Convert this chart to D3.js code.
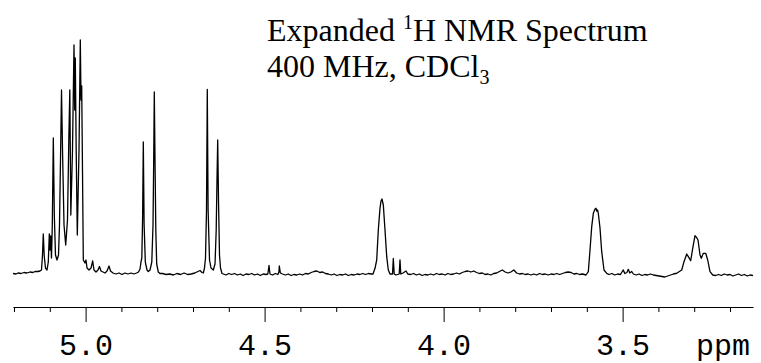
<!DOCTYPE html>
<html>
<head>
<meta charset="utf-8">
<script src="https://cdn.jsdelivr.net/npm/d3@7"></script>
<style>
  html, body { margin: 0; padding: 0; background: #fff; }
  svg { display: block; }
</style>
</head>
<body>
<script>
// ---- data (chemical shift in ppm, intensity in arbitrary units) ----
const spectrum = [
  [5.2028,0.5],[5.1944,0],[5.1888,1],[5.1804,0.5],[5.1721,1.5],[5.1637,1],[5.1553,2],[5.1469,1.5],[5.1413,2.5],[5.1330,2.5],[5.1274,3],
  [5.1232,4],[5.1204,19],[5.1182,40],[5.1156,18],[5.1120,6],[5.1078,4],[5.1042,12],[5.1014,40],[5.0994,24],[5.0975,38],[5.0953,16],
  [5.0930,49],[5.0902,136],[5.0874,59],[5.0841,19],[5.0799,14],[5.0757,19],[5.0729,49],[5.0693,134],[5.0673,184],[5.0645,124],
  [5.0603,49],[5.0556,29],[5.0506,54],[5.0469,134],[5.0441,184],[5.0413,59],[5.0366,124],[5.0324,229],[5.0304,164],[5.0288,216],
  [5.0263,124],[5.0232,39],[5.0184,124],[5.0148,234],[5.0128,174],[5.0109,188],[5.0087,104],[5.0064,14],[5.0017,11],[4.9989,14],
  [4.9961,6],[4.9905,4],[4.9849,6],[4.9802,13],[4.9765,4],[4.9709,2],[4.9654,4],[4.9612,7.5],[4.9570,3],[4.9514,2],[4.9458,1],
  [4.9402,3],[4.9346,8],[4.9304,3],[4.9235,1],[4.9151,0],[4.9067,1],[4.8983,-0.5],[4.8899,1],[4.8816,0],[4.8732,1],[4.8648,0],
  [4.8578,1],[4.8522,2],[4.8480,5],[4.8453,12],[4.8430,16],[4.8408,55],[4.8388,132],[4.8366,50],[4.8332,12],[4.8285,4],[4.8249,2.5],
  [4.8201,4],[4.8151,12],[4.8117,49],[4.8098,114],[4.8081,182],[4.8061,114],[4.8039,44],[4.8014,10],[4.7969,2],[4.7922,0.5],
  [4.785,0.5],[4.775,-0.5],[4.765,0],[4.755,-1],[4.745,0.5],[4.735,-0.5],[4.725,1],[4.715,-0.5],[4.705,0],[4.695,1],[4.6804,3.5],[4.6749,1.5],
  [4.6712,1],[4.6679,6],[4.6651,16],[4.6623,64],[4.6601,184.7],[4.6578,64],[4.6539,14],[4.6497,6],[4.6433,4],[4.6385,10],[4.6352,44],
  [4.6330,94],[4.6310,134],[4.6288,74],[4.6260,19],[4.6232,6],[4.6190,0.5],
  [4.615,0],[4.608,-1],[4.600,0.5],[4.592,-0.5],[4.584,0.5],[4.576,-1],[4.568,0],[4.560,-1.5],[4.552,0],[4.544,-0.5],[4.536,0.5],
  [4.528,-1],[4.520,0],[4.512,-1.5],[4.504,0],[4.496,-0.5],[4.491,0],[4.4877,8.5],[4.4850,0],[4.478,-1],[4.470,0.5],[4.463,-0.5],
  [4.4600,2],[4.4589,8],[4.4560,1],[4.450,0],[4.442,-1],[4.434,0],[4.426,-1.5],[4.418,-0.5],[4.410,-1],[4.402,0],[4.394,-1],
  [4.386,0.5],[4.378,0],[4.370,1.5],[4.362,2.5],[4.354,3],[4.346,1.5],[4.338,2],[4.330,0.5],[4.322,0],[4.314,-1],[4.306,0],
  [4.298,-1.5],[4.290,-0.5],[4.282,-1],[4.274,0],[4.266,-1.5],[4.258,-0.5],[4.250,-1],[4.242,0],[4.234,-0.5],[4.226,0.5],[4.218,-0.5],
  [4.210,0.5],[4.202,0],
  [4.1972,0],[4.1916,5.7],[4.1869,14],[4.1824,44],[4.1777,65.7],[4.1749,73],[4.1721,75],[4.1684,69],[4.1637,44],[4.1589,17.3],
  [4.1545,4],[4.1497,0],[4.1427,0],[4.1405,15.5],[4.1380,0],[4.1330,-1],[4.1240,0],[4.1218,14],[4.1196,0],[4.1134,1],
  [4.105,3],[4.100,0],[4.092,-0.5],[4.084,0.5],[4.076,-1],[4.068,0],[4.060,-1.5],[4.052,-0.5],[4.044,-1],[4.036,0],[4.028,-1],
  [4.020,0.5],[4.012,-0.5],[4.004,0],[3.996,-1],[3.988,0.5],[3.980,-0.5],[3.972,0],[3.964,1],[3.956,0],[3.948,1.5],[3.940,2.5],
  [3.932,3],[3.924,2],[3.916,3],[3.908,1.5],[3.900,0.5],[3.892,1],[3.884,-0.5],[3.876,0],[3.868,-1],[3.860,0.5],[3.852,1],
  [3.844,2.5],[3.836,4],[3.828,2],[3.820,1],[3.812,2],[3.804,4],[3.796,1],[3.788,0],[3.780,0.5],[3.772,-0.5],[3.764,0],[3.756,-1],
  [3.748,0],[3.740,-1],[3.732,0.5],[3.724,-0.5],[3.716,0],[3.708,-1],[3.700,0],[3.692,-0.5],[3.684,0.5],[3.676,-0.5],[3.668,0.5],
  [3.660,1.5],[3.652,2],[3.644,1.5],[3.636,0],[3.628,0.5],[3.620,-0.5],[3.612,0],
  [3.6022,-1],[3.5958,2.3],[3.5911,24],[3.5863,47.3],[3.5818,60.7],[3.5771,65],[3.5743,65.7],[3.5725,63],[3.5700,64],[3.5679,60.7],
  [3.5631,45.7],[3.5584,22.3],[3.5520,4],[3.5444,0.7],
  [3.538,-0.5],[3.530,0.5],[3.522,-1],[3.514,0],[3.506,-0.5],[3.500,3],[3.4980,4],[3.494,0.5],[3.488,1.5],[3.4841,4.7],[3.480,1],
  [3.4746,2.5],[3.470,0],[3.462,-1],[3.454,0],[3.446,-1.5],[3.438,-0.5],[3.430,-1],[3.422,0],[3.414,-1],[3.406,-1.5],[3.398,-2],
  [3.390,-2.5],[3.382,-3],[3.374,-2],[3.366,-1],[3.358,0],[3.352,0.5],
  [3.3489,0.7],[3.3349,4],[3.3285,12.3],[3.3209,20],[3.3165,17.3],[3.3098,13.3],[3.3042,25.7],[3.2978,38.3],[3.2930,36.3],[3.2894,34],
  [3.2838,19],[3.2802,15.7],[3.2746,20.7],[3.2679,20.7],[3.2623,14],[3.2559,2.3],[3.2483,-1],
  [3.240,-1.5],[3.232,-0.5],[3.224,-1.5],[3.216,0],[3.208,-1],[3.200,-0.5],[3.192,-2],[3.184,-1],[3.176,0],[3.168,-1.5],[3.160,-0.5],
  [3.152,-2],[3.144,-1],[3.136,-1.5]
];

const majorTicks = [5.0, 4.5, 4.0, 3.5];
const majorLabels = ["5.0", "4.5", "4.0", "3.5"];
const minorTicks = [5.2, 5.1, 4.9, 4.8, 4.7, 4.6, 4.4, 4.3, 4.2, 4.1, 3.9, 3.8, 3.7, 3.6, 3.4, 3.3, 3.2];
const unitLabel = "ppm";
const titleLine1 = ["Expanded ", "1", "H NMR Spectrum"];
const titleLine2 = ["400 MHz, CDCl", "3"];

// ---- layout ----
const W = 761, H = 363;
const axisY = 307;

const svg = d3.select("body").append("svg").attr("width", W).attr("height", H);

const x = d3.scaleLinear().domain([5.2028, 3.1358]).range([13, 753]);
const y = d3.scaleLinear().domain([0, 240]).range([274, 34]);

// spectrum line
const line = d3.line().x(d => x(d[0])).y(d => y(d[1]));
svg.append("path")
  .datum(spectrum)
  .attr("d", line)
  .attr("fill", "none")
  .attr("stroke", "#000")
  .attr("stroke-width", 1.3)
  .attr("stroke-linejoin", "round");

// axis: minor ticks
const minorAxis = d3.axisBottom(x).tickValues(minorTicks).tickSize(5).tickSizeOuter(0).tickFormat("");
const gMinor = svg.append("g").attr("transform", `translate(0,${axisY})`).call(minorAxis);
gMinor.select(".domain").attr("stroke", "#000").attr("stroke-width", 1.2);
gMinor.selectAll(".tick line").attr("stroke", "#000").attr("stroke-width", 1);

// axis: major ticks with labels
const monoFont = "'Courier New', 'Liberation Mono', monospace";
const majorAxis = d3.axisBottom(x).tickValues(majorTicks).tickSize(15).tickSizeOuter(0)
  .tickPadding(12).tickFormat((d, i) => majorLabels[i]);
const gMajor = svg.append("g").attr("transform", `translate(0,${axisY})`).call(majorAxis);
gMajor.select(".domain").remove();
gMajor.selectAll(".tick line").attr("stroke", "#000").attr("stroke-width", 1);
gMajor.selectAll(".tick text")
  .attr("fill", "#000")
  .style("font-family", monoFont)
  .style("font-size", "30px");

svg.append("text")
  .attr("x", 750).attr("y", 355)
  .attr("text-anchor", "end")
  .style("font-family", monoFont)
  .style("font-size", "30px")
  .attr("fill", "#000")
  .text(unitLabel);

// title
const serif = "'Times New Roman', 'Liberation Serif', serif";
const t1 = svg.append("text").attr("x", 267).attr("y", 41)
  .style("font-family", serif).style("font-size", "32px").attr("fill", "#000");
t1.append("tspan").text(titleLine1[0]);
t1.append("tspan").attr("dy", -12).style("font-size", "20px").text(titleLine1[1]);
t1.append("tspan").attr("dy", 12).text(titleLine1[2]);

const t2 = svg.append("text").attr("x", 267).attr("y", 77)
  .style("font-family", serif).style("font-size", "32px").attr("fill", "#000");
t2.append("tspan").text(titleLine2[0]);
t2.append("tspan").attr("dy", 7).style("font-size", "20px").text(titleLine2[1]);
</script>
</body>
</html>
